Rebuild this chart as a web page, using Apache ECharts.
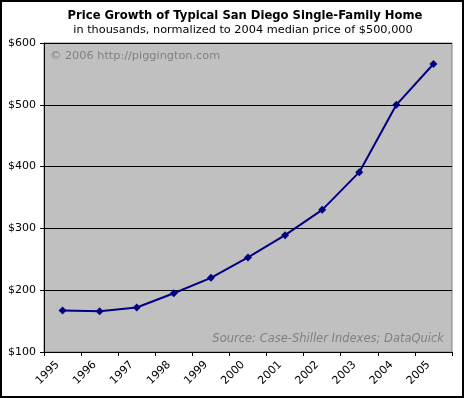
<!DOCTYPE html>
<html>
<head>
<meta charset="utf-8">
<script src="https://cdn.jsdelivr.net/npm/echarts@6/dist/echarts.min.js"></script>
<style>
html, body { margin: 0; padding: 0; background: #fff; }
#main { width: 464px; height: 398px; }
</style>
</head>
<body>
<div id="main"></div>
<script>
// 数据
var years = ['1995', '1996', '1997', '1998', '1999', '2000', '2001', '2002', '2003', '2004', '2005'];
var prices = [167, 166, 172, 195, 220, 253, 289, 330, 391, 500, 566];
var yTicks = [100, 200, 300, 400, 500, 600];

var FONT = 'DejaVu Sans';

var chart = echarts.init(document.getElementById('main'));

var option = {
	backgroundColor: '#ffffff',
	animation: false,
	grid: {
		left: 44,
		right: 12,
		top: 43,
		bottom: 46,
		show: true,
		backgroundColor: '#C0C0C0',
		borderColor: '#808080',
		borderWidth: 1
	},
	xAxis: {
		type: 'category',
		data: years,
		boundaryGap: true,
		axisLine: { lineStyle: { color: '#000', width: 1 } },
		axisTick: { show: true, length: 4, interval: 0, lineStyle: { color: '#000' } },
		axisLabel: {
			interval: 0,
			rotate: 45,
			margin: 6,
			padding: [0, 7, 0, 0],
			color: '#000',
			fontFamily: FONT,
			fontSize: 11
		},
		splitLine: { show: false }
	},
	yAxis: {
		type: 'value',
		min: yTicks[0],
		max: yTicks[yTicks.length - 1],
		interval: 100,
		axisLine: { show: true, lineStyle: { color: '#000', width: 1 } },
		axisTick: { show: true, length: 4, lineStyle: { color: '#000' } },
		axisLabel: {
			margin: 8,
			color: '#000',
			fontFamily: FONT,
			fontSize: 11,
			formatter: function(v) { return '$' + v; }
		},
		splitLine: { show: true, lineStyle: { color: '#000', width: 1 } }
	},
	series: [{
		type: 'line',
		data: prices,
		symbol: 'diamond',
		symbolSize: 8,
		showSymbol: true,
		lineStyle: { color: '#000080', width: 2 },
		itemStyle: { color: '#000080' }
	}],
	graphic: [
		{
			type: 'text', silent: true,
			style: { x: 245, y: 16, text: 'Price Growth of Typical San Diego Single-Family Home',
				fill: '#000', font: 'bold 11.6px "DejaVu Sans"', textAlign: 'center', textVerticalAlign: 'middle' }
		},
		{
			type: 'text', silent: true,
			style: { x: 243, y: 30, text: 'in thousands, normalized to 2004 median price of $500,000',
				fill: '#000', font: '11.3px "DejaVu Sans"', textAlign: 'center', textVerticalAlign: 'middle' }
		},
		{
			type: 'text', silent: true,
			style: { x: 50, y: 56, text: '\u00a9 2006 http://piggington.com',
				fill: '#808080', font: '11.3px "DejaVu Sans"', textAlign: 'left', textVerticalAlign: 'middle' }
		},
		{
			type: 'text', silent: true,
			style: { x: 444, y: 339, text: 'Source: Case-Shiller Indexes; DataQuick',
				fill: '#808080', font: 'italic 11.5px "DejaVu Sans"', textAlign: 'right', textVerticalAlign: 'middle' }
		},
		{
			type: 'rect', silent: true,
			shape: { x: 1, y: 1, width: 462, height: 396 },
			style: { fill: null, stroke: '#000', lineWidth: 2 }
		}
	]
};

chart.setOption(option);
</script>
</body>
</html>
